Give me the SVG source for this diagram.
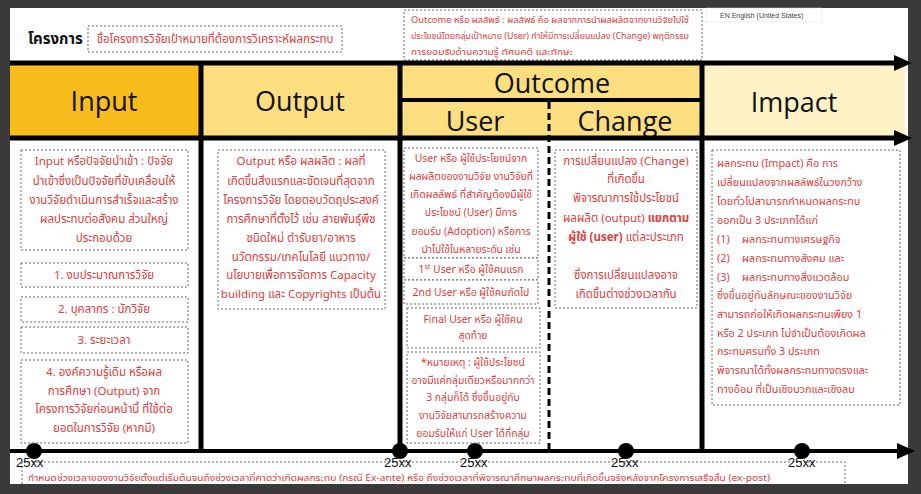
<svg xmlns="http://www.w3.org/2000/svg" width="921" height="494" viewBox="0 0 921 494">
<defs>
<style>
.th{font-family:"Noto Sans Thai","Noto Sans","Liberation Sans",sans-serif;fill:#e23b3b;font-size:11.5px}
.c{text-anchor:middle}
.u{font-size:10.4px}
.im{font-size:10.8px}
.sm{font-size:9.3px}
.hd{font-family:"Open Sans","Liberation Sans",sans-serif;font-size:27px;fill:#111;text-anchor:middle}
.box{fill:#fff;stroke:#666;stroke-width:1;stroke-dasharray:2 2}
.thick{stroke:#000;stroke-width:5;fill:none}
.yr{font-family:"Liberation Sans Narrow","Liberation Sans",sans-serif;font-size:13px;fill:#111}
</style>
<marker id="ah" markerUnits="userSpaceOnUse" markerWidth="18" markerHeight="16" viewBox="0 0 18 16" refX="2" refY="8" orient="auto">
<path d="M0,0 L18,8 L0,16 z" fill="#000"/>
</marker>
</defs>
<rect x="0" y="0" width="921" height="494" fill="#3a3a3a"/>
<rect x="10" y="8" width="898" height="476" fill="#fff"/>

<g id="project">
<text x="28" y="44" font-family="Noto Sans Thai,Noto Sans,Liberation Sans,sans-serif" font-size="15" font-weight="bold" fill="#111">โครงการ</text>
<rect class="box" x="88" y="26" width="254" height="26"/>
<text class="th c" x="215" y="43">ชื่อโครงการวิจัยเป้าหมายที่ต้องการวิเคราะห์ผลกระทบ</text>
</g>

<g id="outcome-note">
<rect class="box" x="404" y="10" width="298" height="50"/>
<text class="th sm" x="411" y="23" textLength="278" lengthAdjust="spacingAndGlyphs">Outcome หรือ ผลลัพธ์ : ผลลัพธ์ คือ ผลจากการนำผลผลิตจากงานวิจัยไปใช้</text>
<text class="th sm" x="411" y="39" textLength="278" lengthAdjust="spacingAndGlyphs">ประโยชน์โดยกลุ่มเป้าหมาย (User) ทำให้มีการเปลี่ยนแปลง (Change) พฤติกรรม</text>
<text class="th sm" x="411" y="55" textLength="162" lengthAdjust="spacingAndGlyphs">การยอมรับด้านความรู้ ทัศนคติ และทักษะ</text>
</g>

<g id="lang">
<rect x="706" y="8" width="116" height="14" fill="#fff" stroke="#ddd" stroke-width="0.5"/>
<text x="720" y="18" font-family="Liberation Sans,sans-serif" font-size="7" fill="#444">EN English (United States)</text>
</g>

<g id="header-input">
<rect x="10" y="65" width="190" height="71" fill="#f8bc1c"/>
<text class="hd" x="104" y="111">Input</text>
</g>
<g id="header-output">
<rect x="202" y="65" width="197" height="71" fill="#fbde80"/>
<text class="hd" x="300" y="111">Output</text>
</g>
<g id="header-outcome">
<rect x="401" y="65" width="300" height="34" fill="#fbde80"/>
<text class="hd" x="552" y="93">Outcome</text>
</g>
<g id="header-user">
<rect x="401" y="101" width="148" height="35" fill="#fbde80"/>
<text class="hd" x="475" y="131">User</text>
</g>
<g id="header-change">
<rect x="549" y="101" width="152" height="35" fill="#fbde80"/>
<text class="hd" x="625" y="131">Change</text>
</g>
<g id="header-impact">
<rect x="703" y="65" width="202" height="71" fill="#fef1c6"/>
<text class="hd" x="794" y="112">Impact</text>
</g>

<g id="connectors">
<line class="thick" x1="10" y1="63" x2="896" y2="63" marker-end="url(#ah)"/>
<line class="thick" x1="10" y1="138" x2="896" y2="138" marker-end="url(#ah)"/>
<line x1="401" y1="100" x2="702" y2="100" stroke="#000" stroke-width="4"/>
<line class="thick" x1="201" y1="63" x2="201" y2="451"/>
<line class="thick" x1="400" y1="63" x2="400" y2="451"/>
<line class="thick" x1="702" y1="63" x2="702" y2="451"/>
<line x1="549" y1="102" x2="549" y2="451" stroke="#000" stroke-width="3" stroke-dasharray="7 4"/>
<line x1="10" y1="451" x2="899" y2="451" stroke="#000" stroke-width="4" marker-end="url(#ah)"/>
<circle cx="34" cy="451" r="8" fill="#000"/>
<circle cx="400" cy="451" r="8" fill="#000"/>
<circle cx="475" cy="451" r="8" fill="#000"/>
<circle cx="626" cy="451" r="8" fill="#000"/>
<circle cx="802" cy="451" r="8" fill="#000"/>
</g>

<g id="input-desc">
<rect class="box" x="21" y="150" width="167" height="100"/>
<text class="th c" x="104" y="165">Input หรือปัจจัยนำเข้า : ปัจจัย</text>
<text class="th c" x="104" y="185">นำเข้าซึ่งเป็นปัจจัยที่ขับเคลื่อนให้</text>
<text class="th c" x="104" y="204">งานวิจัยดำเนินการสำเร็จและสร้าง</text>
<text class="th c" x="104" y="223">ผลประทบต่อสังคม ส่วนใหญ่</text>
<text class="th c" x="104" y="242">ประกอบด้วย</text>
</g>
<g id="input-1">
<rect class="box" x="21" y="263" width="167" height="24"/>
<text class="th c" x="104" y="279">1. งบประมาณการวิจัย</text>
</g>
<g id="input-2">
<rect class="box" x="21" y="297" width="167" height="25"/>
<text class="th c" x="104" y="313">2. บุคลากร : นักวิจัย</text>
</g>
<g id="input-3">
<rect class="box" x="21" y="327" width="167" height="26"/>
<text class="th c" x="104" y="344">3. ระยะเวลา</text>
</g>
<g id="input-4">
<rect class="box" x="21" y="360" width="167" height="83"/>
<text class="th c" x="104" y="376">4. องค์ความรู้เดิม หรือผล</text>
<text class="th c" x="104" y="395">การศึกษา (Output) จาก</text>
<text class="th c" x="104" y="413">โครงการวิจัยก่อนหน้านี้ ที่ใช้ต่อ</text>
<text class="th c" x="104" y="432">ยอดในการวิจัย (หากมี)</text>
</g>

<g id="output-desc">
<rect class="box" x="218" y="150" width="167" height="159"/>
<text class="th c" x="301" y="165">Output หรือ ผลผลิต : ผลที่</text>
<text class="th c" x="301" y="185">เกิดขึ้นสิ่งแรกและชัดเจนที่สุดจาก</text>
<text class="th c" x="301" y="204">โครงการวิจัย โดยตอบวัตถุประสงค์</text>
<text class="th c" x="301" y="223">การศึกษาที่ตั้งไว้ เช่น สายพันธุ์พืช</text>
<text class="th c" x="301" y="242">ชนิดใหม่ ตำรับยา/อาหาร</text>
<text class="th c" x="301" y="261">นวัตกรรม/เทคโนโลยี แนวทาง/</text>
<text class="th c" x="301" y="279">นโยบายเพื่อการจัดการ Capacity</text>
<text class="th c" x="301" y="298">building และ Copyrights เป็นต้น</text>
</g>

<g id="user-desc">
<rect class="box" x="404" y="148" width="134" height="110"/>
<text class="th c u" x="471" y="162">User หรือ ผู้ใช้ประโยชน์จาก</text>
<text class="th c u" x="471" y="180">ผลผลิตของงานวิจัย งานวิจัยที่</text>
<text class="th c u" x="471" y="198">เกิดผลลัพธ์ ที่สำคัญต้องมีผู้ใช้</text>
<text class="th c u" x="471" y="216">ประโยชน์ (User) มีการ</text>
<text class="th c u" x="471" y="235">ยอมรับ (Adoption) หรือการ</text>
<text class="th c u" x="471" y="253">นำไปใช้ในหลายระดับ เช่น</text>
</g>
<g id="user-1">
<rect class="box" x="404" y="258" width="134" height="22"/>
<text class="th c u" x="471" y="273">1<tspan style="font-size:7px" dy="-4">st</tspan><tspan dy="4"> User หรือ ผู้ใช้คนแรก</tspan></text>
</g>
<g id="user-2">
<rect class="box" x="404" y="280" width="134" height="24"/>
<text class="th c u" x="471" y="296">2nd User หรือ ผู้ใช้คนถัดไป</text>
</g>
<g id="user-final">
<rect class="box" x="407" y="308" width="133" height="40"/>
<text class="th c u" x="473" y="323">Final User หรือ ผู้ใช้คน</text>
<text class="th c u" x="473" y="339">สุดท้าย</text>
</g>
<g id="user-note">
<rect class="box" x="407" y="352" width="133" height="91"/>
<text class="th c u" x="473" y="366">*หมายเหตุ : ผู้ใช้ประโยชน์</text>
<text class="th c u" x="473" y="384">อาจมีแค่กลุ่มเดียวหรือมากกว่า</text>
<text class="th c u" x="473" y="401">3 กลุ่มก็ได้ ซึ่งขึ้นอยู่กับ</text>
<text class="th c u" x="473" y="419">งานวิจัยสามารถสร้างความ</text>
<text class="th c u" x="473" y="437">ยอมรับให้แก่ User ได้กี่กลุ่ม</text>
</g>

<g id="change-desc">
<rect class="box" x="555" y="150" width="142" height="158"/>
<text class="th c" x="626" y="165">การเปลี่ยนแปลง (Change)</text>
<text class="th c" x="626" y="183">ที่เกิดขึ้น</text>
<text class="th c" x="626" y="202">พิจารณาการใช้ประโยชน์</text>
<text class="th c" x="626" y="222">ผลผลิต (output) <tspan font-weight="bold">แยกตาม</tspan></text>
<text class="th c" x="626" y="241"><tspan font-weight="bold">ผู้ใช้ (user)</tspan> แต่ละประเภท</text>
<text class="th c" x="626" y="279">ซึ่งการเปลี่ยนแปลงอาจ</text>
<text class="th c" x="626" y="298">เกิดขึ้นต่างช่วงเวลากัน</text>
</g>

<g id="impact-desc">
<rect class="box" x="712" y="150" width="188" height="255"/>
<text class="th im" x="717" y="167">ผลกระทบ (Impact) คือ การ</text>
<text class="th im" x="717" y="186">เปลี่ยนแปลงจากผลลัพธ์ในวงกว้าง</text>
<text class="th im" x="717" y="205">โดยทั่วไปสามารถกำหนดผลกระทบ</text>
<text class="th im" x="717" y="224">ออกเป็น 3 ประเภทได้แก่</text>
<text class="th im" x="717" y="243">(1)<tspan x="742">ผลกระทบทางเศรษฐกิจ</tspan></text>
<text class="th im" x="717" y="262">(2)<tspan x="742">ผลกระทบทางสังคม และ</tspan></text>
<text class="th im" x="717" y="281">(3)<tspan x="742">ผลกระทบทางสิ่งแวดล้อม</tspan></text>
<text class="th im" x="717" y="299">ซึ่งขึ้นอยู่กับลักษณะของงานวิจัย</text>
<text class="th im" x="717" y="318">สามารถก่อให้เกิดผลกระทบเพียง 1</text>
<text class="th im" x="717" y="337">หรือ 2 ประเภท ไม่จำเป็นต้องเกิดผล</text>
<text class="th im" x="717" y="355">กระทบครบทั้ง 3 ประเภท</text>
<text class="th im" x="717" y="374">พิจารณาได้ทั้งผลกระทบทางตรงและ</text>
<text class="th im" x="717" y="393">ทางอ้อม ที่เป็นเชิงบวกและเชิงลบ</text>
</g>

<g id="timeline-note">
<path d="M22,484 V462 H845 V484" fill="none" stroke="#666" stroke-width="1" stroke-dasharray="2 2"/>
<text class="yr" x="16" y="467">25xx</text>
<text class="yr" x="384" y="467">25xx</text>
<text class="yr" x="460" y="467">25xx</text>
<text class="yr" x="611" y="467">25xx</text>
<text class="yr" x="788" y="467">25xx</text>
<text class="th" x="28" y="481" style="font-size:9px" textLength="742" lengthAdjust="spacingAndGlyphs">กำหนดช่วงเวลาของงานวิจัยตั้งแต่เริ่มต้นจนถึงช่วงเวลาที่คาดว่าเกิดผลกระทบ (กรณี Ex-ante) หรือ ถึงช่วงเวลาที่พิจารณาศึกษาผลกระทบที่เกิดขึ้นจริงหลังจากโครงการเสร็จสิ้น (ex-post)</text>
</g>
<rect x="0" y="484" width="921" height="10" fill="#3a3a3a"/>
</svg>
